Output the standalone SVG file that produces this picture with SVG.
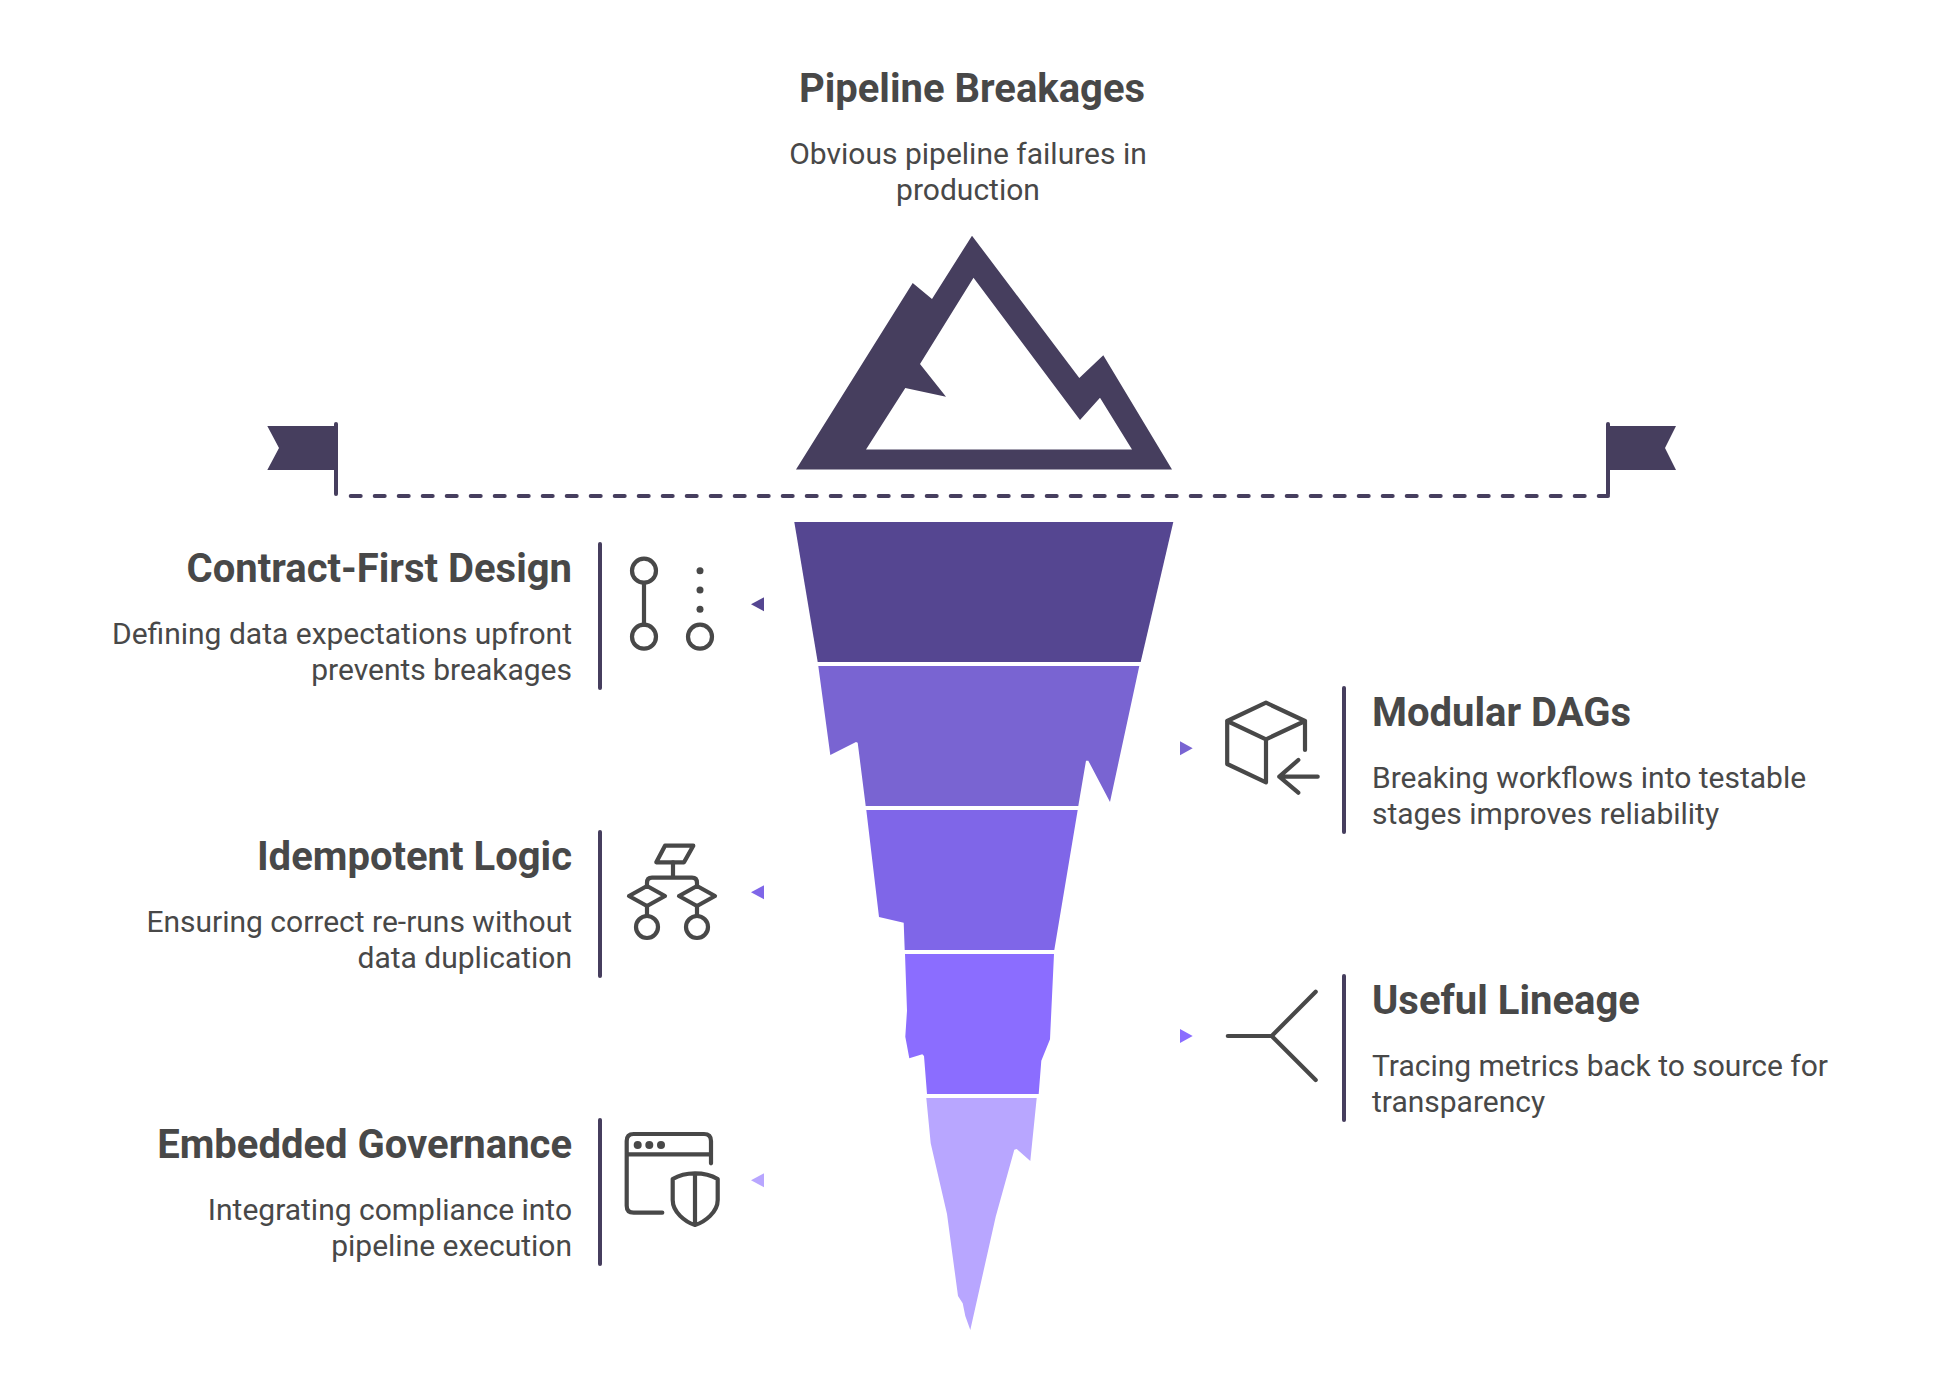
<svg xmlns="http://www.w3.org/2000/svg" width="1944" height="1400" viewBox="0 0 1944 1400">
<style>
.t{font-family:Roboto,"Liberation Sans",sans-serif;font-size:40px;font-weight:700;fill:#484848}
.b{font-family:Roboto,"Liberation Sans",sans-serif;font-size:30px;font-weight:400;fill:#484848}
.e{text-anchor:end}.m{text-anchor:middle}
.ic{fill:none;stroke:#484848;stroke-width:4.2;stroke-linecap:round;stroke-linejoin:round}
.bar{fill:none;stroke:#463E5E;stroke-width:4;stroke-linecap:round}
.dk{fill:#463E5E}
</style>
<rect width="1944" height="1400" fill="#fff"/>
<g id="iceberg-top">
<path class="dk" fill-rule="evenodd" d="M796 469.5L912.7 283L932 299L972 235.7L1079.3 378L1103.3 355.3L1172 469.5ZM866 449.5H1132L1100 397.7L1080 420L973.5 277.7L920 364L946 396.7L905.3 388Z"/>
</g>
<g id="waterline">
<path class="dk" d="M267.3 426H336V470H267.3L279 448Z"/>
<path class="dk" d="M1676 426H1608V470H1676L1665 448Z"/>
<path class="bar" d="M336 424V494"/>
<path class="bar" d="M1608 494V424"/>
<path class="bar" d="M350.7 496H1608" stroke-dasharray="10 14"/>
</g>
<g id="iceberg-bottom">
<path fill="#554691" d="M794.3 522H1173.3L1140.7 662H817.7Z"/>
<path fill="#7964D2" d="M818.3 666H1139.3L1110 802L1088.3 760.7H1086L1078.3 806H865.7L857.7 742.7L856 742L830.3 755Z"/>
<path fill="#7F66E8" d="M866.3 810H1077.7L1054.3 950H904.7L903.7 922.7L879 917Z"/>
<path fill="#8B6DFF" d="M905 954H1054L1050.3 1032.7L1050 1039.3L1041.3 1060.7L1038.7 1094H927L924 1056L922.3 1054.3L909.3 1058.3L905.3 1036.7L907 1010.7Z"/>
<path fill="#B8A6FF" d="M926.3 1098H1036.7L1030.3 1161L1016.7 1149L1014.3 1149.7L995.7 1216.7L970.3 1330L965.3 1316L962.7 1303.3L958 1296L947 1214L930.7 1143.3Z"/>
</g>
<g id="connectors">
<path fill="#554691" d="M751 604.3L764 597.3V611.3Z"/>
<path fill="#7F66E8" d="M751 892.3L764 885.3V899.3Z"/>
<path fill="#B8A6FF" d="M751 1180.3L764 1173.3V1187.3Z"/>
<path fill="#7964D2" d="M1192.7 748.3L1180 741.3V755.3Z"/>
<path fill="#8B6DFF" d="M1192.7 1036L1180 1029V1043Z"/>
</g>
<g id="pipeline-breakages">
<text class="t m" x="972" y="102">Pipeline Breakages</text>
<text class="b m" x="968" y="164">Obvious pipeline failures in</text>
<text class="b m" x="968" y="200">production</text>
</g>
<g id="contract-first-design">
<text class="t e" x="572" y="582">Contract-First Design</text>
<text class="b e" x="572" y="644">Defining data expectations upfront</text>
<text class="b e" x="572" y="680">prevents breakages</text>
<path class="bar" d="M600 544V688"/>
<g class="ic"><circle cx="644" cy="570.7" r="12"/><circle cx="644" cy="636.7" r="12"/><circle cx="700" cy="636.7" r="12"/><path d="M644 583V625"/></g>
<g fill="#484848"><circle cx="700" cy="570.7" r="3.5"/><circle cx="700" cy="590" r="3.5"/><circle cx="700" cy="609.3" r="3.5"/></g>
</g>
<g id="idempotent-logic">
<text class="t e" x="572" y="870">Idempotent Logic</text>
<text class="b e" x="572" y="932">Ensuring correct re-runs without</text>
<text class="b e" x="572" y="968">data duplication</text>
<path class="bar" d="M600 832V976"/>
<g class="ic"><path d="M665 845.7H693.3L684 862.3H656.3Z"/><path d="M673 862.3V877.7M647 885.7V883Q647 877.7 652 877.7H692Q697 877.7 697 883V885.7"/><path d="M629 896L647 886L665 896L647 906ZM679 896L697 886L715 896L697 906Z"/><path d="M647 906V916M697 906V916"/><circle cx="647" cy="927" r="11"/><circle cx="697" cy="927" r="11"/></g>
</g>
<g id="embedded-governance">
<text class="t e" x="572" y="1158">Embedded Governance</text>
<text class="b e" x="572" y="1220">Integrating compliance into</text>
<text class="b e" x="572" y="1256">pipeline execution</text>
<path class="bar" d="M600 1120V1264"/>
<g class="ic"><path d="M662.3 1212.7H633.7Q626.7 1212.7 626.7 1205.7V1141Q626.7 1134 633.7 1134H704Q711 1134 711 1141V1163.3M626.7 1154.3H711"/><path d="M695 1173.3Q682 1173.3 672.7 1179V1200C672.7 1212 685 1222 695 1225C705 1222 717.7 1212 717.7 1200V1179Q708 1173.3 695 1173.3ZM695 1173.3V1225"/></g>
<g fill="#484848"><circle cx="637.7" cy="1145" r="4"/><circle cx="649.3" cy="1145" r="4"/><circle cx="661" cy="1145" r="4"/></g>
</g>
<g id="modular-dags">
<text class="t" x="1372" y="726">Modular DAGs</text>
<text class="b" x="1372" y="788">Breaking workflows into testable</text>
<text class="b" x="1372" y="824">stages improves reliability</text>
<path class="bar" d="M1344 688V832"/>
<g class="ic"><path d="M1305 750V721L1266 702.7L1227.2 721V764L1266 782.3V739.3L1227.2 721M1266 739.3L1305 721"/><path d="M1317.7 776.7H1279.3M1298.3 760L1279.3 776.7L1298.3 792.7"/></g>
</g>
<g id="useful-lineage">
<text class="t" x="1372" y="1014">Useful Lineage</text>
<text class="b" x="1372" y="1076">Tracing metrics back to source for</text>
<text class="b" x="1372" y="1112">transparency</text>
<path class="bar" d="M1344 976V1120"/>
<path class="ic" d="M1227.8 1036H1271.7L1315.7 991.7M1271.7 1036L1315.7 1080"/>
</g>
</svg>
